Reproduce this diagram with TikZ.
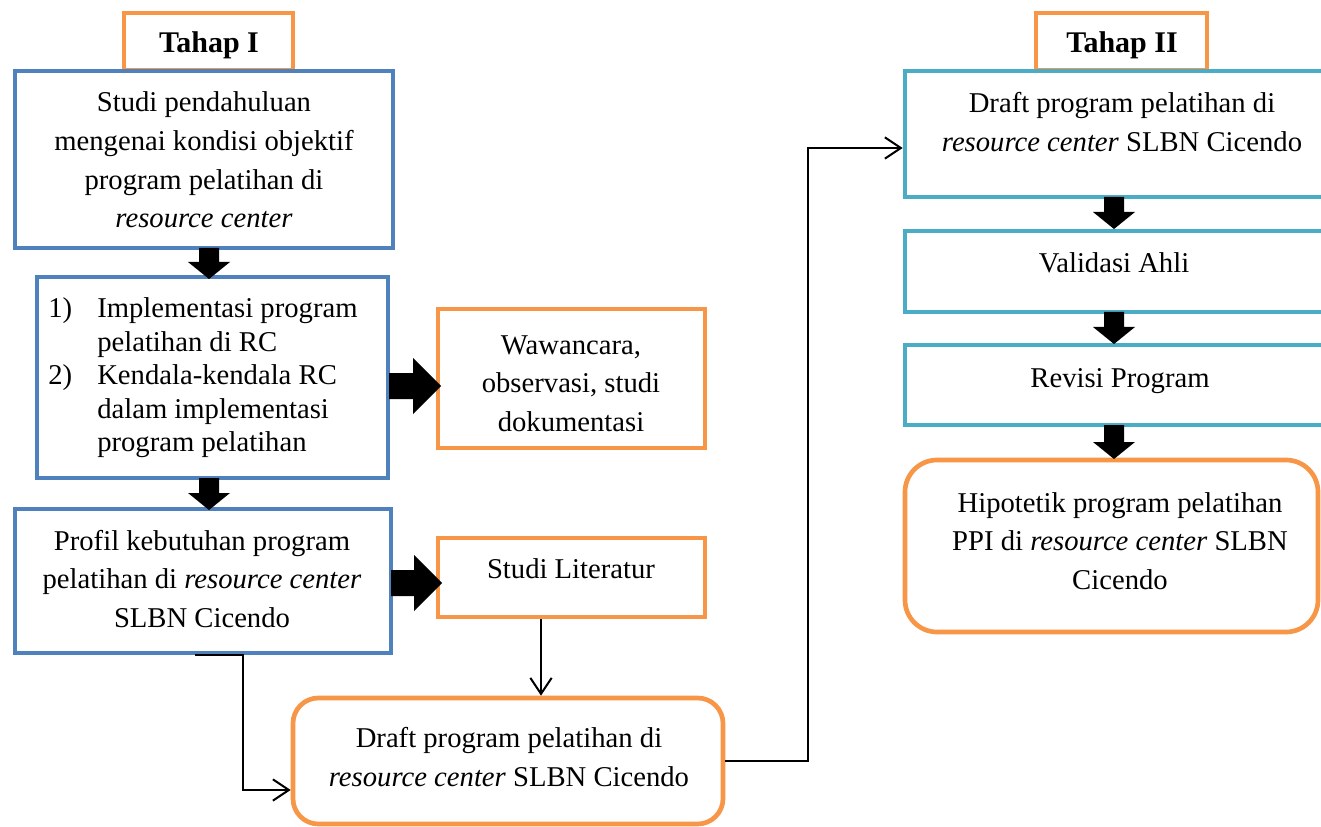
\documentclass[tikz,border=0pt]{standalone}
\usepackage{fontspec}
\setmainfont{Liberation Serif}
\usetikzlibrary{arrows.meta,fit,calc}
\definecolor{cblue}{RGB}{79,129,189}
\definecolor{corange}{RGB}{247,150,70}
\definecolor{cteal}{RGB}{75,172,198}
\newcommand\blkdown[3]{\fill (#1-10,#2) -- (#1+10,#2) -- (#1+10,#3-17) -- (#1+21,#3-17) -- (#1,#3) -- (#1-21,#3-17) -- (#1-10,#3-17) -- cycle;}
\newcommand\blkright[3]{\fill (#2,#1-13) -- (#3-28,#1-13) -- (#3-28,#1-28) -- (#3,#1) -- (#3-28,#1+28) -- (#3-28,#1+13) -- (#2,#1+13) -- cycle;}
\tikzset{
  bbox/.style={draw=cblue, line width=3.5pt, fill=white, inner sep=0pt},
  obox/.style={draw=corange, line width=3.5pt, fill=white, inner sep=0pt},
  tbox/.style={draw=cteal, line width=3.5pt, fill=white, inner sep=0pt},
  robox/.style={obox, rounded corners=19pt},
  robox2/.style={obox, rounded corners=24pt},
  txt/.style={align=center, inner sep=0pt, font=\fontsize{21.5pt}{29pt}\selectfont},
  ltxt/.style={align=left, inner sep=0pt, anchor=west, font=\fontsize{21.5pt}{25.1pt}\selectfont},
  btxt/.style={align=center, inner sep=0pt, font=\bfseries\fontsize{22.5pt}{29pt}\selectfont},
  conn/.style={line width=1.5pt, -{Straight Barb[length=12pt,width=16pt]}}
}
\begin{document}
\begin{tikzpicture}[x=0.75pt,y=-0.75pt]
\useasboundingbox (0,0) rectangle (1321,827);
% boxes
\node[obox, fit={(124,13)(293,70)}] (tahap1) {};
\node[bbox, fit={(15,71)(393,248)}] (studi) {};
\node[bbox, fit={(37,277)(388,478)}] (impl) {};
\node[obox, fit={(438,309)(705,448)}] (waw) {};
\node[bbox, fit={(15,509)(391,653)}] (profil) {};
\node[obox, fit={(438,538)(705,617)}] (lit) {};
\node[robox, fit={(293,698)(723,824)}] (draft) {};
\node[obox, fit={(1036,13)(1207,70)}] (tahap2) {};
\node[tbox, fit={(905,71)(1332,197)}] (dtwo) {};
\node[tbox, fit={(905,231)(1332,312)}] (valid) {};
\node[tbox, fit={(905,345)(1332,425)}] (revisi) {};
\node[robox2, fit={(905,460)(1318,632)}] (hipo) {};
% texts
\node[btxt] (t1) at (209,45) {\strut Tahap I};
\node[btxt] (t2) at (1122,45) {\strut Tahap II};
\node[txt] (tstudi) at (204,162) {\strut Studi pendahuluan\\ mengenai kondisi objektif\\ program pelatihan di\\ \textit{resource center}\strut};
\node[ltxt] (timpl) at (48,378) {\strut\makebox[36.75pt][l]{1)}Implementasi program\\ \hspace*{36.75pt}pelatihan di RC\\ \makebox[36.75pt][l]{2)}Kendala-kendala RC\\ \hspace*{36.75pt}dalam implementasi\\ \hspace*{36.75pt}program pelatihan\strut};
\node[txt] (twaw) at (571,385) {\strut Wawancara,\\ observasi, studi\\ dokumentasi\strut};
\node[txt] (tprofil) at (202,581) {\strut Profil kebutuhan program\\ pelatihan di \textit{resource center}\\ SLBN Cicendo\strut};
\node[txt] (tlit) at (571,571) {\strut Studi Literatur};
\node[txt] (tdraft) at (509,759) {\strut Draft program pelatihan di\\ \textit{resource center} SLBN Cicendo\strut};
\node[txt] (tdtwo) at (1122,124) {\strut Draft program pelatihan di\\ \textit{resource center} SLBN Cicendo\strut};
\node[txt] (tvalid) at (1114,265) {\strut Validasi Ahli};
\node[txt] (trevisi) at (1120,380) {\strut Revisi Program};
\node[txt] (thipo) at (1120,543) {\strut Hipotetik program pelatihan\\ PPI di \textit{resource center} SLBN\\ Cicendo\strut};
% connectors
\coordinate (k1) at (243,790);
\draw[conn] ([xshift=-6pt]profil.south) -| (k1) -- (k1 -| draft.west);
\coordinate (k2) at (541,0);
\draw[conn] (lit.south -| k2) -- (draft.north -| k2);
\coordinate (k3) at (808,148);
\draw[conn] (draft.east) -| (k3) -- (k3 -| dtwo.west);
% block arrows
\blkdown{209}{248}{279}
\blkdown{209}{478}{510}
\blkright{386}{389}{441}
\blkright{583}{391}{442}
\blkdown{1114}{197}{229}
\blkdown{1114}{312}{344}
\blkdown{1114}{425}{459}
\end{tikzpicture}
\end{document}
